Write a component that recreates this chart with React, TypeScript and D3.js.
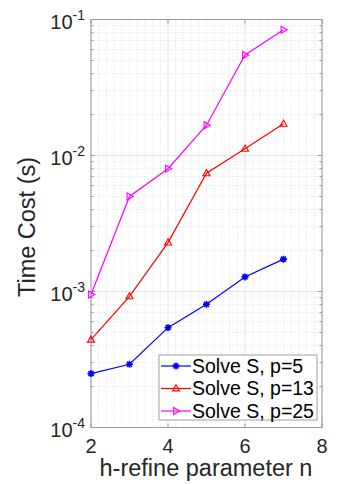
import React, { useRef, useEffect } from 'react';
import * as d3 from 'd3';

const nValues = [2, 3, 4, 5, 6, 7];
const costP5 = [2.49e-4, 2.92e-4, 5.42e-4, 8.05e-4, 1.28e-3, 1.73e-3];
const costP13 = [4.42e-4, 9.2e-4, 2.29e-3, 7.4e-3, 1.12e-2, 1.71e-2];
const costP25 = [9.5e-4, 5.0e-3, 8.0e-3, 1.67e-2, 5.48e-2, 8.4e-2];
const seriesNames = ['Solve S, p=5', 'Solve S, p=13', 'Solve S, p=25'];
const xTicks = [2, 4, 6, 8];
const yTickExps = [-4, -3, -2, -1];

const FONT = '"Liberation Sans", Helvetica, Arial, sans-serif';

export default function App() {
  const ref = useRef<SVGSVGElement>(null);

  useEffect(() => {
    if (!ref.current) return;
    const svg = d3.select(ref.current);
    svg.selectAll('*').remove();

    const left = 91, right = 322, top = 19.5, bottom = 427.5;
    const x = d3.scaleLinear().domain([2, 8]).range([left, right]);
    const y = d3.scaleLog().domain([1e-4, 1e-1]).range([bottom, top]);

    svg.append('rect').attr('width', 340).attr('height', 484).attr('fill', '#fff');

    // grid
    const grid = svg.append('g');
    const minorX = d3.range(2, 8.001, 0.2).filter((v) => Math.abs(v / 2 - Math.round(v / 2)) > 1e-6);
    minorX.forEach((v) => {
      grid.append('line').attr('x1', x(v)).attr('x2', x(v)).attr('y1', top).attr('y2', bottom)
        .attr('stroke', '#e4e4e4').attr('stroke-width', 0.8).attr('stroke-dasharray', '1.5,1.5');
    });
    const minorY: number[] = [];
    [-4, -3, -2].forEach((e) => {
      for (let m = 2; m <= 9; m++) minorY.push(m * Math.pow(10, e));
    });
    minorY.forEach((v) => {
      grid.append('line').attr('x1', left).attr('x2', right).attr('y1', y(v)).attr('y2', y(v))
        .attr('stroke', '#e4e4e4').attr('stroke-width', 0.8).attr('stroke-dasharray', '1.5,1.5');
    });
    xTicks.forEach((v) => {
      grid.append('line').attr('x1', x(v)).attr('x2', x(v)).attr('y1', top).attr('y2', bottom)
        .attr('stroke', '#dedede').attr('stroke-width', 0.8);
    });
    yTickExps.forEach((e) => {
      grid.append('line').attr('x1', left).attr('x2', right).attr('y1', y(Math.pow(10, e))).attr('y2', y(Math.pow(10, e)))
        .attr('stroke', '#dedede').attr('stroke-width', 0.8);
    });

    // axes box and ticks
    const axisColor = '#9a9a9a';
    svg.append('rect').attr('x', left).attr('y', top).attr('width', right - left).attr('height', bottom - top)
      .attr('fill', 'none').attr('stroke', axisColor).attr('stroke-width', 1);
    xTicks.forEach((v) => {
      svg.append('line').attr('x1', x(v)).attr('x2', x(v)).attr('y1', bottom).attr('y2', bottom - 4).attr('stroke', axisColor);
      svg.append('line').attr('x1', x(v)).attr('x2', x(v)).attr('y1', top).attr('y2', top + 4).attr('stroke', axisColor);
    });
    yTickExps.forEach((e) => {
      const yy = y(Math.pow(10, e));
      svg.append('line').attr('x1', left).attr('x2', left + 4).attr('y1', yy).attr('y2', yy).attr('stroke', axisColor);
      svg.append('line').attr('x1', right).attr('x2', right - 4).attr('y1', yy).attr('y2', yy).attr('stroke', axisColor);
    });
    minorY.forEach((v) => {
      svg.append('line').attr('x1', left).attr('x2', left + 2.5).attr('y1', y(v)).attr('y2', y(v)).attr('stroke', axisColor);
      svg.append('line').attr('x1', right).attr('x2', right - 2.5).attr('y1', y(v)).attr('y2', y(v)).attr('stroke', axisColor);
    });

    // tick labels
    xTicks.forEach((v) => {
      svg.append('text').attr('x', x(v)).attr('y', 453).attr('text-anchor', 'middle')
        .attr('font-family', FONT).attr('font-size', 20).attr('fill', '#262626').text(String(v));
    });
    yTickExps.forEach((e) => {
      const t = svg.append('text').attr('x', 85).attr('y', y(Math.pow(10, e)) + 9.5).attr('text-anchor', 'end')
        .attr('font-family', FONT).attr('fill', '#262626');
      t.append('tspan').attr('font-size', 20).text('10');
      t.append('tspan').attr('font-size', 14).attr('dy', -9).text(String(e));
    });

    // axis labels
    svg.append('text').attr('x', 206).attr('y', 476).attr('text-anchor', 'middle')
      .attr('font-family', FONT).attr('font-size', 23.5).attr('fill', '#262626').text('h-refine parameter n');
    svg.append('text').attr('transform', 'translate(35,227) rotate(-90)').attr('text-anchor', 'middle')
      .attr('font-family', FONT).attr('font-size', 23.5).attr('fill', '#262626').text('Time Cost (s)');

    const series = [
      { name: seriesNames[0], values: costP5, color: '#0000ff', marker: 'star' },
      { name: seriesNames[1], values: costP13, color: '#ff0000', marker: 'up' },
      { name: seriesNames[2], values: costP25, color: '#ff00ff', marker: 'right' },
    ];

    const markerPath = (kind: string) => {
      if (kind === 'star') return 'M-3.5,0L3.5,0M0,-3.5L0,3.5M-2.5,-2.5L2.5,2.5M-2.5,2.5L2.5,-2.5';
      if (kind === 'up') return 'M0,-3.8L3.5,2.4L-3.5,2.4Z';
      return 'M3.8,0L-2.4,-3.5L-2.4,3.5Z';
    };

    const line = d3.line<number>().x((_, i) => x(nValues[i])).y((d) => y(d));

    series.forEach((s) => {
      svg.append('path').attr('d', line(s.values)).attr('fill', 'none').attr('stroke', s.color).attr('stroke-width', 1.2);
      s.values.forEach((v, i) => {
        svg.append('path').attr('d', markerPath(s.marker))
          .attr('transform', `translate(${x(nValues[i])},${y(v)})`)
          .attr('fill', 'none').attr('stroke', s.color).attr('stroke-width', s.marker === 'star' ? 1.6 : 1.1);
      });
    });

    // legend
    const lg = svg.append('g');
    lg.append('rect').attr('x', 159).attr('y', 355).attr('width', 158).attr('height', 65)
      .attr('fill', '#fff').attr('stroke', '#a0a0a0').attr('stroke-width', 1);
    series.forEach((s, i) => {
      const ly = 366 + i * 22.5;
      lg.append('line').attr('x1', 161).attr('x2', 191).attr('y1', ly).attr('y2', ly)
        .attr('stroke', s.color).attr('stroke-width', 1.2);
      lg.append('path').attr('d', markerPath(s.marker)).attr('transform', `translate(176,${ly})`)
        .attr('fill', 'none').attr('stroke', s.color).attr('stroke-width', s.marker === 'star' ? 1.6 : 1.1);
      lg.append('text').attr('x', 192).attr('y', ly + 6.8).attr('font-family', FONT).attr('font-size', 19.5)
        .attr('fill', '#000').text(s.name);
    });
  }, []);

  return (
    <div style={{ position: 'absolute', left: 0, top: 0 }}>
      <svg ref={ref} width={340} height={484} />
    </div>
  );
}
